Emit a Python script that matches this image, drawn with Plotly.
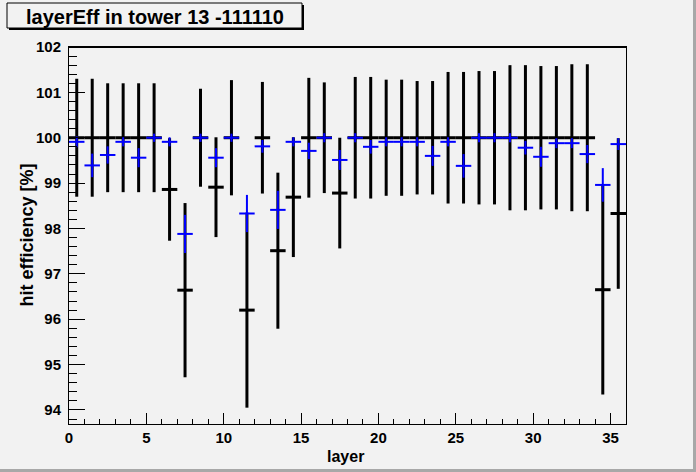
import plotly.graph_objects as go

# layer bins 0..35, plotted at bin centres
layers = [i + 0.5 for i in range(36)]

# black series (efficiency with larger errors)
eff_black = [100, 100, 100, 100, 100, 100, 98.86, 96.64, 100, 98.91, 100, 96.2,
             100, 97.51, 98.69, 100, 100, 98.78, 100, 100, 100, 100, 100, 100,
             100, 100, 100, 100, 100, 100, 100, 100, 100, 100, 96.65, 98.33]
err_black = [1.3, 1.3, 1.2, 1.2, 1.2, 1.2, 1.13, 1.92, 1.08, 1.1, 1.27, 2.15,
             1.23, 1.72, 1.32, 1.32, 1.22, 1.22, 1.34, 1.34, 1.28, 1.28, 1.25, 1.25,
             1.45, 1.45, 1.47, 1.47, 1.6, 1.6, 1.58, 1.58, 1.62, 1.62, 2.31, 1.66]

# blue series
eff_blue = [99.91, 99.39, 99.62, 99.91, 99.56, 100, 99.91, 97.88, 100, 99.56, 100, 98.33,
            99.81, 98.41, 99.91, 99.71, 100, 99.51, 100, 99.8, 99.91, 99.91, 99.91, 99.6,
            99.91, 99.38, 100, 100, 100, 99.78, 99.58, 99.88, 99.88, 99.64, 98.96, 99.86]
err_blue = [0.12, 0.26, 0.19, 0.1, 0.21, 0.09, 0.1, 0.42, 0.09, 0.21, 0.09, 0.41,
            0.14, 0.42, 0.1, 0.18, 0.1, 0.22, 0.1, 0.15, 0.1, 0.1, 0.1, 0.22,
            0.1, 0.26, 0.1, 0.1, 0.1, 0.15, 0.22, 0.11, 0.11, 0.2, 0.37, 0.13]

title = "layerEff in tower 13 -111110"
BG = "#f2f2f2"
FONT = "Liberation Sans, Arial, sans-serif"

# frame in pixels
L, R, T, B = 69, 626, 47, 424
W, H = 696, 472


def px(p):
    return (p - L) / (R - L)


def py(p):
    return (B - p) / (B - T)


fig = go.Figure()
for y, e, col, w in [(eff_black, err_black, "black", 3), (eff_blue, err_blue, "#0000ff", 2)]:
    fig.add_trace(go.Scatter(
        x=layers, y=y, mode="markers",
        marker=dict(size=1, color=col),
        error_x=dict(type="constant", value=0.5, width=0, thickness=w, color=col),
        error_y=dict(type="data", array=e, width=0, thickness=w, color=col),
        showlegend=False, cliponaxis=True,
    ))

shapes = [
    # canvas borders
    dict(type="rect", xref="paper", yref="paper", x0=px(W - 3), x1=px(W), y0=py(H), y1=py(0),
         fillcolor="#a8a8a8", line_width=0, layer="below"),
    dict(type="rect", xref="paper", yref="paper", x0=px(0), x1=px(W), y0=py(H), y1=py(H - 3),
         fillcolor="#a8a8a8", line_width=0, layer="below"),
    # thicker top edge of the frame
    dict(type="line", xref="paper", yref="paper", x0=0, x1=1, y0=1, y1=1,
         line=dict(color="black", width=2)),
    # title box shadow + box
    dict(type="rect", xref="paper", yref="paper", x0=px(9), x1=px(304), y0=py(30), y1=py(5),
         fillcolor="black", line_width=0),
    dict(type="rect", xref="paper", yref="paper", x0=px(7), x1=px(302), y0=py(28), y1=py(3),
         fillcolor=BG, line=dict(color="black", width=1)),
]

annotations = [
    dict(text=title, xref="paper", yref="paper", x=px(155), y=py(17), showarrow=False,
         xanchor="center", yanchor="middle",
         font=dict(size=20, family=FONT, color="black", weight="bold")),
    dict(text="hit efficiency [%]", xref="paper", yref="paper", x=px(26), y=0.5,
         xanchor="center", yanchor="middle", textangle=-90, showarrow=False,
         font=dict(size=18, family=FONT, color="black", weight="bold")),
    dict(text="layer", xref="paper", yref="paper", x=px(345), y=py(457), showarrow=False,
         xanchor="center", yanchor="middle",
         font=dict(size=16, family=FONT, color="black", weight="bold")),
]

fig.update_layout(
    width=W, height=H,
    margin=dict(l=L, r=W - R, t=T, b=H - B, pad=0),
    paper_bgcolor=BG, plot_bgcolor=BG,
    font=dict(family=FONT, color="black", size=15, weight="bold"),
    shapes=shapes, annotations=annotations,
    xaxis=dict(range=[0, 36], tick0=0, dtick=5, ticks="inside", ticklen=11, tickwidth=1,
               tickcolor="black", showline=True, linecolor="black", linewidth=1, mirror=True,
               showgrid=False, zeroline=False,
               tickfont=dict(size=15, family=FONT, weight="bold"),
               minor=dict(dtick=1, ticks="inside", ticklen=5, tickcolor="black", showgrid=False)),
    yaxis=dict(range=[93.69, 102], tick0=0, dtick=1, ticks="inside", ticklen=16, tickwidth=1,
               tickcolor="black", showline=True, linecolor="black", linewidth=1, mirror=True,
               showgrid=False, zeroline=False, ticklabelstandoff=4,
               tickfont=dict(size=15, family=FONT, weight="bold"),
               minor=dict(dtick=0.2, ticks="inside", ticklen=8, tickcolor="black", showgrid=False)),
)

# drop the browser's default body margin so the canvas starts at the window corner
fig.write_html("out.html", config={"displayModeBar": False},
               post_script="document.body.style.margin='0';")
